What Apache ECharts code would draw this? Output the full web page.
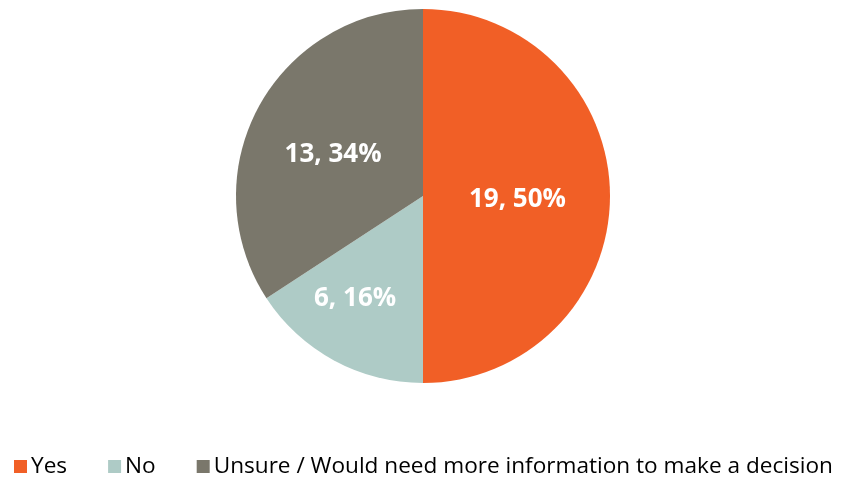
<!DOCTYPE html>
<html>
<head>
<meta charset="utf-8">
<script src="https://cdn.jsdelivr.net/npm/echarts@6/dist/echarts.min.js"></script>
<style>
  html, body { margin: 0; padding: 0; background: #fff; }
  #main { width: 845px; height: 478px; }
</style>
</head>
<body>
<div id="main"></div>
<script>
// 数据
const categories = ['Yes', 'No', 'Unsure / Would need more information to make a decision']
const counts = [19, 6, 13]
const percents = [50, 16, 34]
const colors = ['#f15f26', '#aecbc6', '#7a776b']

// 各标签微调
const labelOffsets = [[-2, 4], [-22, 18], [-5, 5]]

let myChart = echarts.init(document.getElementById('main'))
let option = {
  animation: false,
  legend: {
    data: categories,
    left: 14,
    top: 455,
    width: 900,
    padding: 0,
    icon: 'rect',
    itemWidth: 13,
    itemHeight: 13,
    itemGap: 41,
    selectedMode: false,
    textStyle: {
      fontFamily: 'Open Sans',
      fontSize: 22.6,
      color: '#000',
      padding: [0, 0, 0, -1],
    },
  },
  series: [
    {
      type: 'pie',
      center: [423, 196],
      radius: 187,
      startAngle: 90,
      clockwise: true,
      label: {
        position: 'inside',
        color: '#fff',
        fontFamily: 'Open Sans',
        fontWeight: 'bold',
        fontSize: 26,
        formatter: (p) => `${p.value}, ${percents[p.dataIndex]}%`,
      },
      labelLine: { show: false },
      data: categories.map((name, i) => ({
        name,
        value: counts[i],
        itemStyle: { color: colors[i] },
        label: { offset: labelOffsets[i] },
      })),
    },
  ],
}
myChart.setOption(option)
</script>
</body>
</html>
